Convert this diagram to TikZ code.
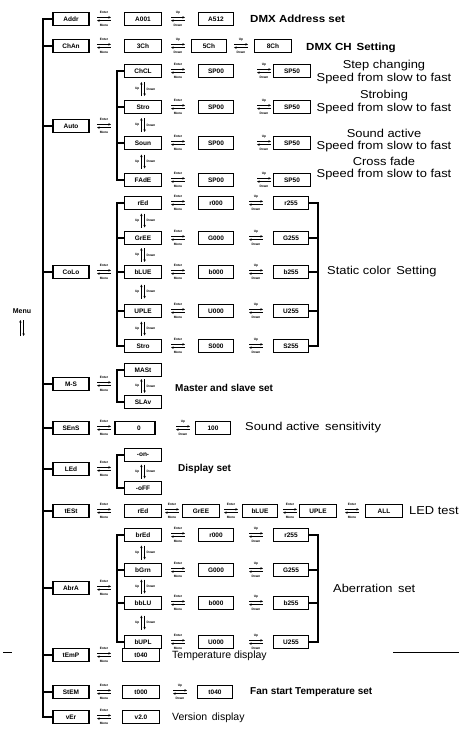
\documentclass[tikz,border=0pt]{standalone}
\usepackage{fontspec}
\setmainfont{Liberation Sans}
\newfontfamily\widefont[FakeStretch=1.12]{Liberation Sans}
\usetikzlibrary{arrows.meta}
\begin{document}
\begin{tikzpicture}[x=1pt,y=-1pt,
  disp/.style={draw,line width=1.3pt,minimum width=36pt,minimum height=13pt,inner sep=0pt,font=\bfseries\fontsize{6.5}{7}\selectfont},
  dispw/.style={disp,minimum width=37pt},
  disps/.style={disp,minimum width=35pt},
  ln/.style={line width=1.2pt},
  big/.style={font=\widefont\fontsize{11.5}{12}\selectfont,inner sep=0pt},
  bigb/.style={font=\widefont\bfseries\fontsize{10.3}{11}\selectfont,inner sep=0pt,anchor=west},
  sml/.style={font=\fontsize{10.5}{11}\selectfont,inner sep=0pt,anchor=west},
  smlb/.style={font=\bfseries\fontsize{10}{11}\selectfont,inner sep=0pt,anchor=west},
  tiny/.style={font=\bfseries\fontsize{3.2}{3.5}\selectfont,inner sep=0pt},
  arr/.style={-{Stealth[length=2.6pt,width=2.4pt]},line width=0.7pt},
  arl/.style={{Stealth[length=2.6pt,width=2.4pt]}-,line width=0.7pt},
  pics/em/.style={code={
    \node[tiny] at (0,-6.5) {Enter};
    \draw[arr] (-7,-1.6) -- (7,-1.6);
    \draw[arl] (-7,1.6) -- (7,1.6);
    \node[tiny] at (0,6.5) {Menu};
  }},
  pics/ud/.style={code={
    \node[tiny] at (0,-6.5) {Up};
    \draw[arr] (-7,-1.6) -- (7,-1.6);
    \draw[arl] (-7,1.6) -- (7,1.6);
    \node[tiny] at (0,6.5) {Down};
  }},
  pics/vud/.style={code={
    \node[tiny,anchor=east] at (-3.5,0) {Up};
    \draw[arr] (-1.6,7) -- (-1.6,-7);
    \draw[arr] (1.6,-7) -- (1.6,7);
    \node[tiny,anchor=west] at (3.5,0) {Down};
  }}
]
\useasboundingbox (0,0) rectangle (459,744);
\coordinate (mx) at (43,0);
\coordinate (sx) at (117,0);
\coordinate (bx) at (318,0);

% ---------- menu ----------
\node[font=\bfseries\fontsize{7}{7}\selectfont,inner sep=0pt] (menu) at (22,311) {Menu};
\draw[arr] (20.4,336) -- (20.4,320);
\draw[arr] (23.6,320) -- (23.6,336);

% ---------- level 1 ----------
\node[disp] (addr) at (71,19) {Addr};
\node[disp] (chan) at (71,46) {ChAn};
\node[disp] (auto) at (71,126) {Auto};
\node[disp] (colo) at (71,272) {CoLo};
\node[disp] (ms)   at (71,384) {M-S};
\node[disp] (sens) at (71,428) {SEnS};
\node[disp] (led)  at (71,469) {LEd};
\node[disp] (test) at (71,511) {tESt};
\node[disp] (aber) at (71,588) {AbrA};
\node[disp] (temp) at (71,655) {tEmP};
\node[disp] (fan)  at (71,692) {StEM};
\node[disp] (ver)  at (71,717) {vEr};
\foreach \y in {19,46,126,272,384,428,469,511,588,655,692,717} \pic at (104,\y) {em};

\draw[ln] (addr.west) -| (ver.west -| mx) -- (ver.west);
\foreach \n in {chan,auto,colo,ms,sens,led,test,aber,temp,fan}
  \draw[ln] (\n.west) -- (\n.west -| mx);

% ---------- address ----------
\node[dispw] (a001) at (143,19) {A001};
\pic at (178,19) {ud};
\node[disps] (a512) at (216,19) {A512};
\node[bigb] (tadr) at (250,19) {DMX Address set};

% ---------- channel ----------
\node[dispw] (ch1) at (143,46) {3Ch};
\pic at (178,46) {ud};
\node[disps] (ch2) at (209,46) {5Ch};
\pic at (241,46) {ud};
\node[dispw] (ch3) at (273,46) {8Ch};
\node[bigb] (tch) at (306,48) {DMX CH\, Setting};

% ---------- auto ----------
\node[dispw] (chcl) at (143,71) {ChCL};
\node[dispw] (stra) at (143,107) {Stro};
\node[dispw] (soun) at (143,143) {Soun};
\node[dispw] (fade) at (143,180) {FAdE};
\draw[ln] (chcl.west) -| (fade.west -| sx) -- (fade.west);
\foreach \n in {stra,soun} \draw[ln] (\n.west) -- (\n.west -| sx);
\foreach \y in {89,125,161.5} \pic at (143,\y) {vud};
\foreach \y/\n in {71/1,107/2,143/3,180/4}{
  \pic at (178,\y) {em};
  \node[disps] (spa\n) at (216,\y) {SP00};
  \pic at (264,\y) {ud};
  \node[dispw] (spb\n) at (292,\y) {SP50};
}
\node[big] (t1a) at (384,65.5) {Step changing};
\node[big] (t1b) at (384,78.5) {Speed from slow to fast};
\node[big] (t2a) at (384,96) {Strobing};
\node[big] (t2b) at (384,109) {Speed from slow to fast};
\node[big] (t3a) at (384,133.5) {Sound active};
\node[big] (t3b) at (384,146.5) {Speed from slow to fast};
\node[big] (t4a) at (384,161.5) {Cross fade};
\node[big] (t4b) at (384,174.5) {Speed from slow to fast};

% ---------- colour ----------
\node[dispw] (cr) at (143,203) {rEd};
\node[dispw] (cg) at (143,238) {GrEE};
\node[dispw] (cb) at (143,272) {bLUE};
\node[dispw] (cu) at (143,311) {UPLE};
\node[dispw] (cs) at (143,346) {Stro};
\draw[ln] (cr.west) -| (cs.west -| sx) -- (cs.west);
\foreach \n in {cg,cb,cu} \draw[ln] (\n.west) -- (\n.west -| sx);
\foreach \y in {220.5,255,291.5,328.5} \pic at (143,\y) {vud};
\foreach \y/\n/\l in {203/r/r,238/g/G,272/b/b,311/u/U,346/s/S}{
  \pic at (178,\y) {em};
  \node[disps] (c\n0) at (216,\y) {\l000};
  \pic at (256,\y) {ud};
  \node[disps] (c\n1) at (291,\y) {\l255};
}
\draw[ln] (cr1.east) -| (cs1.east -| bx) -- (cs1.east);
\foreach \n in {cg1,cb1,cu1} \draw[ln] (\n.east) -- (\n.east -| bx);
\node[big,anchor=west] (tcol) at (327,272) {Static color\, Setting};

% ---------- master / slave ----------
\node[dispw] (mast) at (143,370) {MASt};
\node[dispw] (slav) at (143,402) {SLAv};
\draw[ln] (mast.west) -| (slav.west -| sx) -- (slav.west);
\pic at (143,386) {vud};
\node[smlb] (tms) at (175,388) {Master and slave set};

% ---------- sensitivity ----------
\node[disp,minimum width=40pt] (s0) at (135,428) {\hspace*{8pt}0};
\pic at (183,428) {ud};
\node[disps] (s100) at (213,428) {100};
\node[big,anchor=west] (tsens) at (245,428) {Sound active\, sensitivity};

% ---------- led display ----------
\node[dispw] (lon) at (143,455) {-on-};
\node[dispw] (loff) at (143,488) {-oFF};
\draw[ln] (lon.west) -| (loff.west -| sx) -- (loff.west);
\pic at (143,471.5) {vud};
\node[smlb] (tled) at (178,469) {Display set};

% ---------- led test ----------
\node[dispw] (tr) at (143,511) {rEd};
\pic at (172,511) {em};
\node[dispw] (tg) at (201,511) {GrEE};
\pic at (231,511) {em};
\node[disps] (tb) at (260,511) {bLUE};
\pic at (290,511) {em};
\node[dispw] (tu) at (318,511) {UPLE};
\pic at (352,511) {em};
\node[dispw] (ta) at (384,511) {ALL};
\node[big,anchor=west] (ttest) at (409,511) {LED test};

% ---------- aberration ----------
\node[dispw] (br) at (143,535) {brEd};
\node[dispw] (bg) at (143,570) {bGrn};
\node[dispw] (bb) at (143,603) {bbLU};
\node[dispw] (bu) at (143,642) {bUPL};
\draw[ln] (br.west) -| (bu.west -| sx) -- (bu.west);
\foreach \n in {bg,bb} \draw[ln] (\n.west) -- (\n.west -| sx);
\foreach \y in {552.5,586.5,622.5} \pic at (143,\y) {vud};
\foreach \y/\n/\l in {535/r/r,570/g/G,603/b/b,642/u/U}{
  \pic at (178,\y) {em};
  \node[disps] (b\n0) at (216,\y) {\l000};
  \pic at (256,\y) {ud};
  \node[disps] (b\n1) at (291,\y) {\l255};
}
\draw[ln] (br1.east) -| (bu1.east -| bx) -- (bu1.east);
\foreach \n in {bg1,bb1} \draw[ln] (\n.east) -- (\n.east -| bx);
\node[big,anchor=west] (tab) at (333,588) {Aberration\, set};

% ---------- temperature / fan / version ----------
\node[dispw] (tp) at (141,655) {t040};
\node[sml] (ttemp) at (172,656) {Temperature display};
\node[dispw] (f0) at (141,692) {t000};
\pic at (180,692) {ud};
\node[disps] (f1) at (215,692) {t040};
\node[smlb] (tfan) at (250,692) {Fan start Temperature set};
\node[dispw] (vv) at (141,717) {v2.0};
\node[sml] (tver) at (172,718) {Version\, display};

% ---------- scan marks ----------
\draw[line width=1pt] (393,652) -- (459,652);
\draw[line width=1pt] (3,652) -- (12,652);
\end{tikzpicture}
\end{document}
